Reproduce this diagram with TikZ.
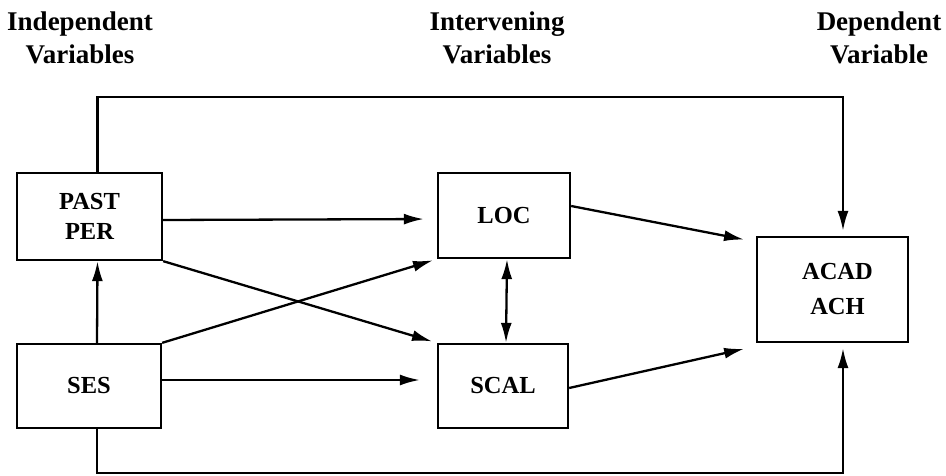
\documentclass[tikz,border=0pt]{standalone}
\usepackage{fontspec}
\setmainfont{Liberation Serif}
\usetikzlibrary{arrows.meta}
\begin{document}
\begin{tikzpicture}[x=1pt,y=-1pt,
  box/.style={draw,line width=2.3pt,rectangle,inner sep=0pt,align=center,
    font=\fontsize{24.5}{30}\selectfont\bfseries},
  head/.style={align=center,font=\fontsize{27}{33}\selectfont\bfseries},
  tip/.style={Latex[length=20pt,width=11pt]},
  arr/.style={line width=2.3pt,-{Latex[length=20pt,width=11pt]}}]
\useasboundingbox (0,0) rectangle (946,476);
\node[head] (h1) at (80,38) {Independent\\Variables};
\node[head] (h2) at (497,38) {Intervening\\Variables};
\node[head] (h3) at (879,38) {Dependent\\Variable};
\node[box,minimum width=145pt,minimum height=87pt] (past) at (89.5,216.5) {PAST\\PER};
\node[box,minimum width=144pt,minimum height=84pt] (ses) at (89,386) {SES};
\node[box,minimum width=132pt,minimum height=85pt] (loc) at (504,215.5) {LOC};
\node[box,minimum width=130pt,minimum height=84pt] (scal) at (503,386) {SCAL};
\node[box,minimum width=151pt,minimum height=105pt,font=\fontsize{24.5}{35}\selectfont\bfseries] (acad) at (832.5,289.5) {\hspace*{10pt}ACAD\\\hspace*{10pt}ACH};
\coordinate (toprail) at (0,97);
\coordinate (botrail) at (0,473);
\coordinate (acadtop) at ([xshift=10.5pt]acad.north);
\coordinate (acadbot) at ([xshift=10.5pt]acad.south);
% top rail
\draw[arr,shorten >=5pt] ([xshift=8pt]past.north) |- (acadtop |- toprail) -- (acadtop);
% bottom rail
\draw[arr,shorten >=5pt] ([xshift=8pt]ses.south) |- (acadbot |- botrail) -- (acadbot);
% SES -> PAST PER
\draw[arr] ([xshift=8pt]ses.north) -- ([xshift=8pt]past.south);
% horizontal arrows
\draw[arr,shorten >=13pt] ([yshift=-3.5pt]past.east) -- ([yshift=-3.5pt]loc.west);
\draw[arr,shorten >=17pt] ([yshift=6pt]ses.east) -- ([yshift=6pt]scal.west);
% crossing arrows
\draw[arr,shorten >=5pt] (past.south east) -- (scal.north west);
\draw[arr,shorten >=4pt] (ses.north east) -- (loc.south west);
% LOC <-> SCAL
\draw[line width=2.3pt,{Latex[length=20pt,width=11pt]}-{Latex[length=20pt,width=11pt]}] ([xshift=3pt]loc.south) -- ([xshift=3pt]scal.north);
% to ACAD
\draw[arr,shorten >=12pt] ([yshift=9.5pt]loc.east) -- ([yshift=-6pt]acad.north west);
\draw[arr,shorten >=12pt] ([yshift=-2pt]scal.east) -- ([yshift=-3pt]acad.south west);
\end{tikzpicture}
\end{document}
